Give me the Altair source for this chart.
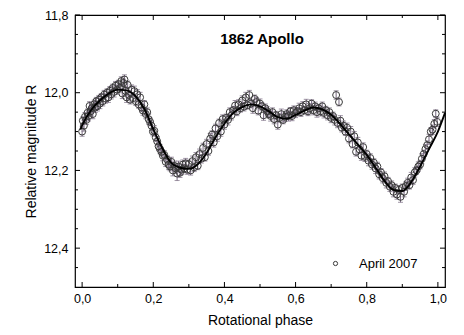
import altair as alt
import pandas as pd

# ---------------- data ----------------
phases = [
    0.000, 0.002, 0.005, 0.008, 0.012, 0.015, 0.018, 0.021, 0.024, 0.027,
    0.030, 0.034, 0.037, 0.040, 0.043, 0.047, 0.050, 0.054, 0.058, 0.062,
    0.066, 0.070, 0.074, 0.078, 0.082, 0.086, 0.090, 0.094, 0.098, 0.102,
    0.106, 0.110, 0.113, 0.116, 0.119, 0.122, 0.125, 0.128, 0.131, 0.135,
    0.139, 0.143, 0.147, 0.151, 0.155, 0.159, 0.163, 0.167, 0.171, 0.175,
    0.179, 0.183, 0.187, 0.191, 0.195, 0.199, 0.203, 0.207, 0.211, 0.215,
    0.219, 0.223, 0.227, 0.231, 0.235, 0.239, 0.243, 0.247, 0.251, 0.255,
    0.259, 0.263, 0.267, 0.271, 0.275, 0.279, 0.283, 0.287, 0.291, 0.295,
    0.300, 0.305, 0.310, 0.315, 0.320, 0.325, 0.330, 0.335, 0.340, 0.345,
    0.350, 0.355, 0.360, 0.365, 0.370, 0.375, 0.380, 0.385, 0.390, 0.395,
    0.400, 0.405, 0.410, 0.415, 0.420, 0.425, 0.430, 0.435, 0.440, 0.445,
    0.450, 0.455, 0.460, 0.465, 0.470, 0.475, 0.480, 0.485, 0.490, 0.495,
    0.500, 0.505, 0.510, 0.515, 0.520, 0.525, 0.530, 0.535, 0.540, 0.545,
    0.550, 0.555, 0.560, 0.565, 0.570, 0.575, 0.580, 0.585, 0.590, 0.595,
    0.600, 0.605, 0.610, 0.615, 0.620, 0.625, 0.630, 0.635, 0.640, 0.645,
    0.650, 0.655, 0.660, 0.665, 0.670, 0.675, 0.680, 0.685, 0.690, 0.695,
    0.700, 0.705, 0.710, 0.714, 0.718, 0.722, 0.726, 0.730, 0.735, 0.740,
    0.745, 0.750, 0.755, 0.760, 0.765, 0.770, 0.775, 0.780, 0.785, 0.790,
    0.795, 0.800, 0.805, 0.810, 0.815, 0.820, 0.825, 0.830, 0.835, 0.840,
    0.845, 0.850, 0.855, 0.860, 0.865, 0.870, 0.875, 0.880, 0.885, 0.890,
    0.895, 0.900, 0.905, 0.910, 0.915, 0.920, 0.925, 0.930, 0.935, 0.940,
    0.945, 0.950, 0.955, 0.960, 0.965, 0.970, 0.975, 0.980, 0.985, 0.990,
    0.994, 0.998,
]

magnitudes = [
    12.100, 12.072, 12.085, 12.062, 12.070, 12.052, 12.060, 12.034, 12.048, 12.040,
    12.055, 12.030, 12.038, 12.022, 12.035, 12.018, 12.028, 12.012, 12.022, 12.005,
    12.015, 12.000, 12.012, 11.995, 12.004, 11.988, 11.998, 11.982, 11.992, 11.978,
    11.988, 11.970, 12.002, 11.975, 11.966, 11.995, 12.012, 11.980, 12.006, 12.018,
    11.992, 12.014, 11.996, 12.022, 12.004, 12.030, 12.012, 12.038, 12.046, 12.030,
    12.055, 12.050, 12.068, 12.075, 12.085, 12.100, 12.098, 12.115, 12.125, 12.138,
    12.145, 12.152, 12.162, 12.160, 12.178, 12.172, 12.185, 12.190, 12.178, 12.200,
    12.188, 12.195, 12.208, 12.190, 12.206, 12.198, 12.185, 12.195, 12.182, 12.198,
    12.184, 12.200, 12.176, 12.192, 12.166, 12.188, 12.158, 12.170, 12.142, 12.166,
    12.132, 12.150, 12.118, 12.108, 12.128, 12.092, 12.112, 12.078, 12.100, 12.068,
    12.082, 12.065, 12.070, 12.050, 12.058, 12.045, 12.033, 12.048, 12.030, 12.040,
    12.020, 12.036, 12.012, 12.032, 12.006, 12.028, 12.040, 12.016, 12.024, 12.046,
    12.028, 12.035, 12.058, 12.040, 12.048, 12.055, 12.060, 12.050, 12.068, 12.058,
    12.082, 12.065, 12.055, 12.070, 12.062, 12.055, 12.060, 12.048, 12.060, 12.045,
    12.052, 12.048, 12.040, 12.050, 12.035, 12.045, 12.030, 12.048, 12.040, 12.028,
    12.045, 12.035, 12.050, 12.040, 12.048, 12.035, 12.052, 12.045, 12.058, 12.050,
    12.065, 12.060, 12.070, 12.006, 12.078, 12.024, 12.072, 12.090, 12.085, 12.100,
    12.090, 12.118, 12.100, 12.132, 12.112, 12.152, 12.128, 12.146, 12.162, 12.140,
    12.165, 12.158, 12.175, 12.168, 12.185, 12.180, 12.195, 12.190, 12.210, 12.205,
    12.220, 12.215, 12.232, 12.228, 12.242, 12.238, 12.255, 12.245, 12.262, 12.250,
    12.268, 12.245, 12.255, 12.240, 12.232, 12.238, 12.218, 12.225, 12.205, 12.200,
    12.190, 12.185, 12.170, 12.158, 12.145, 12.135, 12.120, 12.100, 12.095, 12.080,
    12.054, 12.075,
]

errors = [
    0.012, 0.010, 0.014, 0.011, 0.012, 0.010, 0.013, 0.011, 0.012, 0.010,
    0.012, 0.011, 0.013, 0.010, 0.012, 0.011, 0.013, 0.010, 0.012, 0.011,
    0.012, 0.010, 0.013, 0.011, 0.012, 0.010, 0.013, 0.011, 0.012, 0.010,
    0.012, 0.011, 0.013, 0.010, 0.012, 0.011, 0.013, 0.010, 0.012, 0.011,
    0.012, 0.010, 0.013, 0.011, 0.012, 0.010, 0.013, 0.011, 0.012, 0.010,
    0.012, 0.011, 0.013, 0.010, 0.012, 0.011, 0.013, 0.010, 0.012, 0.011,
    0.012, 0.010, 0.013, 0.011, 0.012, 0.010, 0.013, 0.011, 0.012, 0.014,
    0.012, 0.013, 0.018, 0.014, 0.012, 0.013, 0.012, 0.011, 0.013, 0.012,
    0.011, 0.012, 0.013, 0.011, 0.012, 0.010, 0.013, 0.011, 0.012, 0.010,
    0.012, 0.011, 0.013, 0.010, 0.012, 0.011, 0.013, 0.010, 0.012, 0.011,
    0.012, 0.010, 0.013, 0.011, 0.012, 0.010, 0.013, 0.011, 0.012, 0.010,
    0.012, 0.011, 0.013, 0.010, 0.012, 0.011, 0.013, 0.010, 0.012, 0.011,
    0.012, 0.010, 0.013, 0.011, 0.012, 0.010, 0.013, 0.011, 0.012, 0.010,
    0.012, 0.011, 0.013, 0.010, 0.012, 0.011, 0.013, 0.010, 0.012, 0.011,
    0.012, 0.010, 0.013, 0.011, 0.012, 0.010, 0.013, 0.011, 0.012, 0.010,
    0.012, 0.011, 0.013, 0.010, 0.012, 0.011, 0.013, 0.010, 0.012, 0.011,
    0.012, 0.010, 0.013, 0.011, 0.012, 0.010, 0.013, 0.011, 0.012, 0.010,
    0.012, 0.011, 0.013, 0.010, 0.012, 0.011, 0.013, 0.010, 0.012, 0.011,
    0.012, 0.010, 0.013, 0.011, 0.012, 0.010, 0.013, 0.011, 0.012, 0.010,
    0.012, 0.011, 0.013, 0.010, 0.012, 0.011, 0.013, 0.010, 0.012, 0.011,
    0.014, 0.010, 0.013, 0.011, 0.012, 0.010, 0.013, 0.011, 0.012, 0.010,
    0.012, 0.011, 0.013, 0.010, 0.012, 0.011, 0.013, 0.010, 0.012, 0.011,
    0.010, 0.012,
]

# fitted light curve
fit_phase = [
    -0.005, 0.000, 0.025, 0.050, 0.075, 0.100, 0.125, 0.150, 0.175, 0.200,
    0.225, 0.250, 0.275, 0.300, 0.325, 0.350, 0.375, 0.400, 0.425, 0.450,
    0.475, 0.500, 0.525, 0.550, 0.575, 0.600, 0.625, 0.650, 0.675, 0.700,
    0.725, 0.750, 0.775, 0.800, 0.825, 0.850, 0.875, 0.900, 0.925, 0.950,
    0.975, 1.000, 1.020,
]
fit_mag = [
    12.095, 12.084, 12.045, 12.020, 12.002, 11.992, 11.994, 12.009, 12.042, 12.094,
    12.142, 12.180, 12.193, 12.196, 12.184, 12.155, 12.115, 12.080, 12.052, 12.037,
    12.030, 12.035, 12.048, 12.063, 12.067, 12.057, 12.046, 12.038, 12.043, 12.057,
    12.080, 12.107, 12.133, 12.160, 12.193, 12.227, 12.250, 12.253, 12.230, 12.190,
    12.145, 12.100, 12.052,
]

series_name = "April 2007"
chart_title = "1862 Apollo"
x_title = "Rotational phase"
y_title = "Relative magnitude R"

x_major = [0.0, 0.2, 0.4, 0.6, 0.8, 1.0]
x_minor = [0.1, 0.3, 0.5, 0.7, 0.9]
y_major = [11.8, 12.0, 12.2, 12.4]
y_minor = [11.85, 11.9, 11.95, 12.05, 12.1, 12.15, 12.25, 12.3, 12.35, 12.45]

# ---------------- tables ----------------
pts = pd.DataFrame({"phase": phases, "mag": magnitudes, "err": errors})
pts["lo"] = pts["mag"] - pts["err"]
pts["hi"] = pts["mag"] + pts["err"]
pts["series"] = series_name
fit = pd.DataFrame({"phase": fit_phase, "mag": fit_mag})

W, H = 370, 272
FONT = "Liberation Sans"

xscale = alt.Scale(domain=[-0.02, 1.02], nice=False, zero=False)
yscale = alt.Scale(domain=[11.8, 12.5], nice=False, zero=False, reverse=True)

xaxis = alt.Axis(
    values=x_major, title=x_title, domain=False, ticks=False, grid=False,
    labelExpr="replace(format(datum.value, '.1f'), '.', ',')",
    labelFont=FONT, labelFontSize=12.5, labelColor="black", labelPadding=5,
    titleFont=FONT, titleFontSize=14, titleFontWeight="normal", titleColor="black",
    titlePadding=9,
)
yaxis = alt.Axis(
    values=y_major, title=y_title, domain=False, ticks=False, grid=False,
    labelExpr="replace(format(datum.value, '.1f'), '.', ',')",
    labelFont=FONT, labelFontSize=12.5, labelColor="black", labelPadding=7,
    titleFont=FONT, titleFontSize=14, titleFontWeight="normal", titleColor="black",
    titlePadding=5,
)


def X(field):
    return alt.X(f"{field}:Q", scale=xscale, axis=xaxis, title=x_title)


def Y(field):
    return alt.Y(f"{field}:Q", scale=yscale, axis=yaxis, title=y_title)


ERR_COLOR = "#76687f"

bars = alt.Chart(pts).mark_rule(color=ERR_COLOR, strokeWidth=1).encode(
    x=X("phase"), y=Y("lo"), y2="hi"
)
cap_lo = alt.Chart(pts).mark_tick(
    color=ERR_COLOR, orient="horizontal", size=5, thickness=1
).encode(x=X("phase"), y=Y("lo"))
cap_hi = alt.Chart(pts).mark_tick(
    color=ERR_COLOR, orient="horizontal", size=5, thickness=1
).encode(x=X("phase"), y=Y("hi"))

points = alt.Chart(pts).mark_point(
    shape="circle", filled=False, size=48, strokeWidth=1, opacity=1
).encode(
    x=X("phase"),
    y=Y("mag"),
    color=alt.Color(
        "series:N",
        scale=alt.Scale(domain=[series_name], range=["#3a3a3a"]),
        legend=alt.Legend(
            orient="none", legendX=254, legendY=242, title=None,
            symbolType="circle", symbolSize=18, symbolStrokeWidth=1,
            symbolFillColor="white",
            labelFont=FONT, labelFontSize=13, labelColor="black",
            labelOffset=17, padding=0,
        ),
    ),
)

curve = alt.Chart(fit).mark_line(
    color="black", strokeWidth=1.9, interpolate="monotone"
).encode(x=X("phase"), y=Y("mag"))

# inward ticks on all four sides
tx_major = pd.DataFrame({"v": x_major})
tx_minor = pd.DataFrame({"v": x_minor})
ty_major = pd.DataFrame({"v": y_major})
ty_minor = pd.DataFrame({"v": y_minor})

tick_layers = []
for df, ln in ((tx_major, 5), (tx_minor, 3)):
    tick_layers.append(alt.Chart(df).mark_rule(color="black", strokeWidth=1).encode(
        x=X("v"), y=alt.value(H), y2=alt.value(H - ln)))
    tick_layers.append(alt.Chart(df).mark_rule(color="black", strokeWidth=1).encode(
        x=X("v"), y=alt.value(0), y2=alt.value(ln)))
for df, ln in ((ty_major, 5), (ty_minor, 3)):
    tick_layers.append(alt.Chart(df).mark_rule(color="black", strokeWidth=1).encode(
        y=Y("v"), x=alt.value(0), x2=alt.value(ln)))
    tick_layers.append(alt.Chart(df).mark_rule(color="black", strokeWidth=1).encode(
        y=Y("v"), x=alt.value(W), x2=alt.value(W - ln)))

title = alt.Chart(pd.DataFrame({"t": [chart_title]})).mark_text(
    font=FONT, fontSize=15, fontWeight="bold", color="black",
    align="center", baseline="middle",
).encode(text="t:N", x=alt.value(187), y=alt.value(24))

chart = alt.layer(
    bars, cap_lo, cap_hi, points, curve, *tick_layers, title
).properties(
    width=W, height=H,
    autosize=alt.AutoSizeParams(type="none"),
    padding={"left": 75, "top": 15, "right": 19, "bottom": 48},
    background="white",
).configure_view(
    stroke="black", strokeWidth=1.2
)

chart.save("out.html", embed_options={"renderer": "svg", "actions": False})
